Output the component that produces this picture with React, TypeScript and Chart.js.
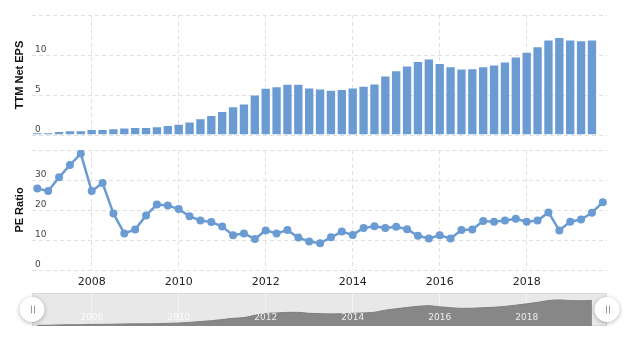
import React, { useEffect, useRef } from "react";
import { Chart, registerables } from "chart.js";

Chart.register(...registerables);

// ---------- data ----------
const quarterEnds: string[] = [
  "2006-09-30", "2006-12-31",
  "2007-03-31", "2007-06-30", "2007-09-30", "2007-12-31",
  "2008-03-31", "2008-06-30", "2008-09-30", "2008-12-31",
  "2009-03-31", "2009-06-30", "2009-09-30", "2009-12-31",
  "2010-03-31", "2010-06-30", "2010-09-30", "2010-12-31",
  "2011-03-31", "2011-06-30", "2011-09-30", "2011-12-31",
  "2012-03-31", "2012-06-30", "2012-09-30", "2012-12-31",
  "2013-03-31", "2013-06-30", "2013-09-30", "2013-12-31",
  "2014-03-31", "2014-06-30", "2014-09-30", "2014-12-31",
  "2015-03-31", "2015-06-30", "2015-09-30", "2015-12-31",
  "2016-03-31", "2016-06-30", "2016-09-30", "2016-12-31",
  "2017-03-31", "2017-06-30", "2017-09-30", "2017-12-31",
  "2018-03-31", "2018-06-30", "2018-09-30", "2018-12-31",
  "2019-03-31", "2019-06-30", "2019-09-30",
];

const ttmNetEps: number[] = [
  0.33, 0.33, 0.5, 0.6, 0.6, 0.75, 0.75, 0.85, 0.95, 1.0,
  1.0, 1.1, 1.25, 1.4, 1.7, 2.1, 2.5, 3.0, 3.6, 3.95,
  5.05, 5.9, 6.1, 6.4, 6.4, 5.95, 5.8, 5.67, 5.75, 5.95,
  6.15, 6.45, 7.45, 8.1, 8.7, 9.25, 9.55, 9.0, 8.6, 8.3,
  8.35, 8.6, 8.8, 9.2, 9.8, 10.4, 11.1, 11.95, 12.25, 11.95,
  11.85, 11.95,
];

const peRatio: number[] = [
  27.2, 26.3, 30.9, 35.0, 38.8, 26.3, 29.0, 18.8, 12.2, 13.5,
  18.2, 21.8, 21.5, 20.3, 17.9, 16.5, 16.0, 14.5, 11.6, 12.2,
  10.3, 13.2, 12.2, 13.3, 10.8, 9.5, 8.9, 10.9, 12.8, 11.7,
  14.0, 14.6, 14.0, 14.4, 13.6, 11.4, 10.5, 11.6, 10.5, 13.3,
  13.5, 16.3, 16.1, 16.5, 17.1, 16.1, 16.5, 19.2, 13.2, 16.1,
  16.8, 19.1, 22.6,
];

const yearTicks: number[] = [2008, 2010, 2012, 2014, 2016, 2018];
const epsTicks: number[] = [0, 5, 10, 15];
const peTicks: number[] = [0, 10, 20, 30, 40];

const X_MIN = 2006.628;
const X_MAX = 2019.846;

// ---------- styling ----------
const FONT = '"DejaVu Sans", Verdana, sans-serif';
const TITLE_FONT = 'bold 11px "Liberation Sans", Arial, sans-serif';
const BLUE = "#6a9bd3";
const GRID = "#e0e0e0";

function toYear(d: string): number {
  const [y, m] = d.split("-").map(Number);
  return y + m / 12;
}

function axisTitle(text: string, x: number, y: number) {
  return {
    id: "axisTitle",
    afterDraw(chart: any) {
      const ctx = chart.ctx;
      ctx.save();
      ctx.translate(x, y);
      ctx.rotate(-Math.PI / 2);
      ctx.font = TITLE_FONT;
      ctx.fillStyle = "#111";
      ctx.textAlign = "center";
      ctx.textBaseline = "middle";
      ctx.fillText(text, 0, 0);
      ctx.restore();
    },
  };
}

function xScale(showLabels: boolean, height: number, gridColor: string, dashed: boolean) {
  return {
    type: "linear",
    min: X_MIN,
    max: X_MAX,
    offset: false,
    afterBuildTicks: (s: any) => {
      s.ticks = yearTicks.map((v) => ({ value: v }));
    },
    afterFit: (s: any) => {
      s.height = height;
    },
    ticks: {
      display: showLabels,
      padding: 6,
      color: "#222",
      font: { family: FONT, size: 11 },
      maxRotation: 0,
      autoSkip: false,
      callback: (v: any) => String(v),
    },
    grid: { color: gridColor, drawTicks: false, offset: false },
    border: { display: false, dash: dashed ? [4, 3] : [] },
  };
}

function yScale(max: number, ticks: number[]) {
  return {
    min: 0,
    max,
    afterBuildTicks: (s: any) => {
      s.ticks = ticks.map((v) => ({ value: v }));
    },
    afterFit: (s: any) => {
      s.width = 0;
    },
    ticks: {
      mirror: true,
      padding: 3,
      labelOffset: -5,
      color: "#444",
      font: { family: FONT, size: 9 },
      callback: (v: any) => (v === max ? "" : String(v)),
    },
    grid: { color: GRID, drawTicks: false },
    border: { display: false, dash: [4, 3] },
  };
}

const navBackground = {
  id: "navBackground",
  beforeDraw(chart: any) {
    const { left, right, top, bottom } = chart.chartArea;
    const ctx = chart.ctx;
    ctx.save();
    ctx.fillStyle = "#e8e8e8";
    ctx.fillRect(left, top, right - left, bottom - top);
    ctx.strokeStyle = "#dadada";
    ctx.lineWidth = 1;
    ctx.strokeRect(left + 0.5, top + 0.5, right - left - 1, bottom - top - 1);
    ctx.restore();
  },
};

const navLabels = {
  id: "navLabels",
  afterDatasetsDraw(chart: any) {
    const xs = chart.scales.x;
    const ctx = chart.ctx;
    const { bottom } = chart.chartArea;
    ctx.save();
    ctx.font = `9px ${FONT}`;
    ctx.fillStyle = "rgba(255,255,255,0.85)";
    ctx.textAlign = "center";
    ctx.textBaseline = "middle";
    xs.ticks.forEach((t: any) => {
      ctx.fillText(String(t.value), xs.getPixelForValue(t.value), bottom - 8);
    });
    ctx.restore();
  },
};

const navHandles = {
  id: "navHandles",
  afterDraw(chart: any) {
    const { left, right, top, bottom } = chart.chartArea;
    const cy = (top + bottom) / 2;
    const ctx = chart.ctx;
    [left, right].forEach((x: number) => {
      ctx.save();
      ctx.shadowColor = "rgba(0,0,0,0.3)";
      ctx.shadowBlur = 4;
      ctx.shadowOffsetY = 1;
      ctx.beginPath();
      ctx.arc(x, cy, 12.5, 0, Math.PI * 2);
      ctx.fillStyle = "#ffffff";
      ctx.fill();
      ctx.restore();
      ctx.save();
      ctx.strokeStyle = "#9a9a9a";
      ctx.lineWidth = 1;
      ctx.beginPath();
      ctx.moveTo(Math.round(x - 1.5) + 0.5, cy - 4);
      ctx.lineTo(Math.round(x - 1.5) + 0.5, cy + 4);
      ctx.moveTo(Math.round(x + 1.5) + 0.5, cy - 4);
      ctx.lineTo(Math.round(x + 1.5) + 0.5, cy + 4);
      ctx.stroke();
      ctx.restore();
    });
  },
};

export default function App() {
  const epsRef = useRef<HTMLCanvasElement>(null);
  const peRef = useRef<HTMLCanvasElement>(null);
  const navRef = useRef<HTMLCanvasElement>(null);

  useEffect(() => {
    Chart.defaults.font.family = FONT;
    const epsData = ttmNetEps.map((v, i) => ({ x: toYear(quarterEnds[i]), y: v }));
    const peData = peRatio.map((v, i) => ({ x: toYear(quarterEnds[i]), y: v }));

    const common = {
      animation: false,
      responsive: false,
      maintainAspectRatio: false,
      events: [],
    };

    const eps = new Chart(epsRef.current!, {
      type: "bar",
      data: {
        datasets: [
          {
            data: epsData,
            backgroundColor: BLUE,
            borderColor: "rgba(255,255,255,0.55)",
            borderWidth: 1,
            barPercentage: 1,
            categoryPercentage: 0.95,
          },
        ],
      },
      options: {
        ...common,
        layout: { padding: { left: 32, right: 33, top: 15, bottom: 10 } },
        plugins: { legend: { display: false }, tooltip: { enabled: false } },
        scales: {
          x: xScale(false, 0, GRID, true),
          y: yScale(15, epsTicks),
        },
      } as any,
      plugins: [axisTitle("TTM Net EPS", 20, 75)],
    } as any);

    const pe = new Chart(peRef.current!, {
      type: "line",
      data: {
        datasets: [
          {
            data: peData,
            borderColor: BLUE,
            backgroundColor: BLUE,
            borderWidth: 2.5,
            pointRadius: 4,
            pointBackgroundColor: BLUE,
            pointBorderWidth: 0,
            tension: 0,
            fill: false,
          },
        ],
      },
      options: {
        ...common,
        layout: { padding: { left: 32, right: 33, top: 10, bottom: 0 } },
        plugins: { legend: { display: false }, tooltip: { enabled: false } },
        scales: {
          x: xScale(true, 30, GRID, true),
          y: yScale(40, peTicks),
        },
      } as any,
      plugins: [axisTitle("PE Ratio", 20, 70)],
    } as any);

    const nav = new Chart(navRef.current!, {
      type: "line",
      data: {
        datasets: [
          {
            data: epsData,
            borderColor: "#7e7e7e",
            backgroundColor: "#878787",
            borderWidth: 1,
            pointRadius: 0,
            cubicInterpolationMode: "monotone",
            fill: "origin",
          },
        ],
      },
      options: {
        ...common,
        layout: { padding: { left: 32, right: 33, top: 8, bottom: 14 } },
        plugins: { legend: { display: false }, tooltip: { enabled: false } },
        scales: {
          x: xScale(false, 0, "rgba(255,255,255,0.45)", false),
          y: { display: false, min: 0, max: 15.5 },
        },
      } as any,
      plugins: [navBackground, navLabels, navHandles],
    } as any);

    return () => {
      eps.destroy();
      pe.destroy();
      nav.destroy();
    };
  }, []);

  return (
    <div
      style={{
        position: "fixed",
        left: 0,
        top: 0,
        width: 640,
        height: 352,
        background: "#ffffff",
        overflow: "hidden",
      }}
    >
      <canvas ref={epsRef} width={640} height={145} style={{ position: "absolute", left: 0, top: 0 }} />
      <canvas ref={peRef} width={640} height={160} style={{ position: "absolute", left: 0, top: 140 }} />
      <canvas ref={navRef} width={640} height={55} style={{ position: "absolute", left: 0, top: 285 }} />
    </div>
  );
}
